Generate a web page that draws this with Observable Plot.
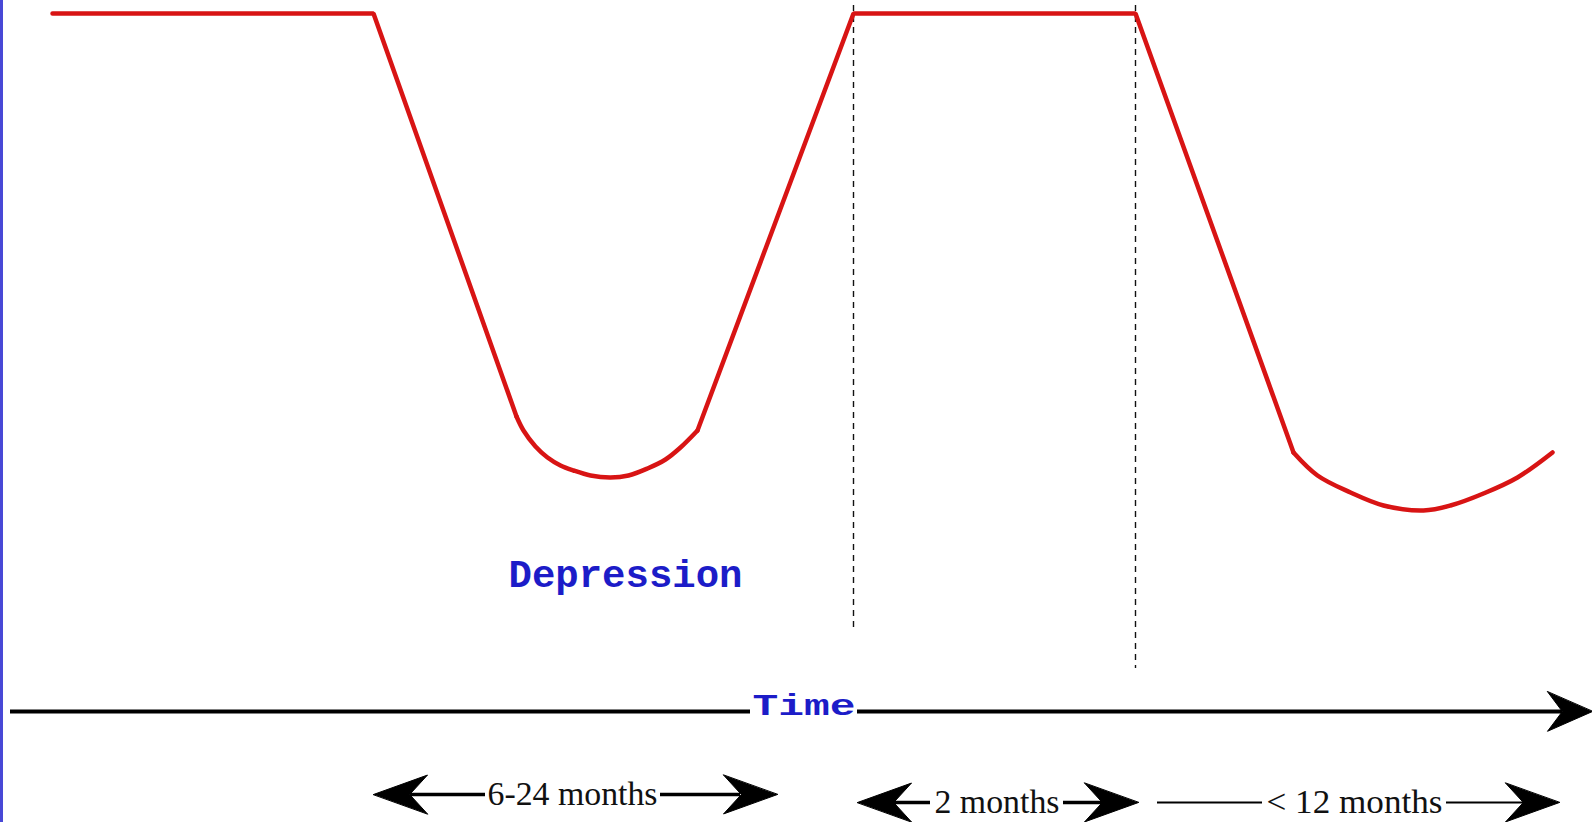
<!DOCTYPE html>
<html><head><meta charset="utf-8">
<script src="https://cdn.jsdelivr.net/npm/d3@7"></script>
<script src="https://cdn.jsdelivr.net/npm/@observablehq/plot@0.6"></script>
<style>html,body{margin:0;padding:0;background:#fff;overflow:hidden}</style>
</head><body><div id="chart"></div>
<script>
// ---- data (time position t, level measured downward from the top) ----
const moodStraightT     = [52, 373, 516, 697, 853, 1135, 1293];
const moodStraightLevel = [13, 13, 416, 430, 13, 13, 452];
const moodStraightRun   = ["a", "a", "a", "b", "b", "b", "b"];

const dip1T     = [516, 523, 535, 547, 560, 573, 590, 610, 628, 647, 665, 680, 697];
const dip1Level = [416, 430, 446, 457, 465, 470, 475, 477, 475, 468, 459, 447, 430];
const dip2T     = [1293, 1317, 1350, 1383, 1423, 1450, 1483, 1517, 1552];
const dip2Level = [452, 475, 492, 505, 510, 505, 493, 477, 452];

const phaseT      = [853, 1135];
const phaseTop    = [5, 5];
const phaseBottom = [628, 668];

const axisStart = [10, 857];
const axisEnd   = [750, 1562];
const axisLevel = [711, 711];

const headT     = [373, 777, 857, 1138, 1559];
const headLevel = [794, 794, 802, 802, 802];
const headDir   = ["left", "right", "left", "right", "right"];
const axisHeadT = [1592];
const axisHeadLevel = [711];

const shaftStart = [410, 660, 892, 1063];
const shaftEnd   = [485, 740, 930, 1103];
const shaftLevel = [794, 794, 802, 802];
const thinStart  = [1157, 1446];
const thinEnd    = [1262, 1526];
const thinLevel  = [802, 802];

const spanLabels     = ["6-24 months", "2 months", "< 12 months"];
const spanLabelT     = [487, 934, 1266];
const spanLabelLevel = [794, 802, 802];
const spanLabelWidth = [170, 125, 176];

const blueLabels      = ["Depression", "Time"];
const blueLabelT      = [508, 752];
const blueLabelLevel  = [574, 705];
const blueLabelWidth  = [234, 103];
const blueLabelSize   = [38, 30];

// ---- build tables ----
const straight = moodStraightT.map((t, i) => ({t, level: moodStraightLevel[i], run: moodStraightRun[i]}));
const dips = [
  ...dip1T.map((t, i) => ({t, level: dip1Level[i], run: "dip1"})),
  ...dip2T.map((t, i) => ({t, level: dip2Level[i], run: "dip2"}))
];
const phases = phaseT.map((t, i) => ({t, top: phaseTop[i], bottom: phaseBottom[i]}));
const axisSegs = axisStart.map((s, i) => ({s, e: axisEnd[i], level: axisLevel[i]}));
const heads = headT.map((t, i) => ({t, level: headLevel[i], dir: headDir[i]}));
const axisHeads = axisHeadT.map((t, i) => ({t, level: axisHeadLevel[i], dir: "right"}));
const shafts = shaftStart.map((s, i) => ({s, e: shaftEnd[i], level: shaftLevel[i]}));
const thins = thinStart.map((s, i) => ({s, e: thinEnd[i], level: thinLevel[i]}));
const spanText = spanLabels.map((label, i) => ({label, t: spanLabelT[i], level: spanLabelLevel[i], w: spanLabelWidth[i]}));
const blueText = blueLabels.map((label, i) => ({label, t: blueLabelT[i], level: blueLabelLevel[i], w: blueLabelWidth[i], size: blueLabelSize[i]}));

function notchedHead(ratio) {
  return {
    draw(context, l) {
      const w = l * ratio;
      context.moveTo(0, -l);
      context.lineTo(w, 0);
      context.lineTo(0, -l * 0.33);
      context.lineTo(-w, 0);
      context.closePath();
    }
  };
}

const red = "#d81414";
const blue = "#1c1cc8";

const chart = Plot.plot({
  width: 1592,
  height: 822,
  margin: 0,
  style: {background: "#fff", overflow: "visible"},
  x: {domain: [0, 1592], range: [0, 1592], axis: null},
  y: {domain: [0, 822], range: [0, 822], axis: null},
  marks: [
    Plot.ruleX([1], {stroke: "#4848d6", strokeWidth: 3}),
    Plot.ruleX(phases, {x: "t", y1: "top", y2: "bottom", stroke: "#111", strokeWidth: 1.4, strokeDasharray: "6,5"}),
    Plot.line(straight, {x: "t", y: "level", z: "run", stroke: red, strokeWidth: 4.5, curve: "linear", strokeLinejoin: "miter"}),
    Plot.line(dips, {x: "t", y: "level", z: "run", stroke: red, strokeWidth: 4.5, curve: "catmull-rom"}),
    Plot.ruleY(axisSegs, {x1: "s", x2: "e", y: "level", stroke: "#000", strokeWidth: 4}),
    Plot.vector(axisHeads, {x: "t", y: "level", rotate: 90, length: 45, anchor: "end", shape: notchedHead(0.44), fill: "#000", stroke: "#000", strokeWidth: 1}),
    Plot.ruleY(shafts, {x1: "s", x2: "e", y: "level", stroke: "#000", strokeWidth: 3.5}),
    Plot.ruleY(thins, {x1: "s", x2: "e", y: "level", stroke: "#000", strokeWidth: 2}),
    Plot.vector(heads, {x: "t", y: "level", rotate: d => d.dir === "right" ? 90 : -90, length: 54, anchor: "end", shape: notchedHead(0.36), fill: "#000", stroke: "#000", strokeWidth: 1}),
    Plot.text(spanText, {x: "t", y: "level", text: "label", textAnchor: "start", fontFamily: "'Liberation Serif', 'Times New Roman', serif", fontSize: 34, fill: "#111"}),
    Plot.text(blueText, {x: "t", y: "level", text: "label", textAnchor: "start", fontFamily: "'Liberation Mono', 'Courier New', monospace", fontWeight: "bold", fontSize: d => d.size, fill: blue})
  ]
});

// stretch labels to the widths
const widthByLabel = new Map([...spanText, ...blueText].map(d => [d.label, d.w]));
d3.select(chart).selectAll("text").each(function() {
  const w = widthByLabel.get(this.textContent);
  if (w) {
    this.setAttribute("textLength", w);
    this.setAttribute("lengthAdjust", "spacingAndGlyphs");
  }
});

document.getElementById("chart").appendChild(chart);
</script>
</body></html>
